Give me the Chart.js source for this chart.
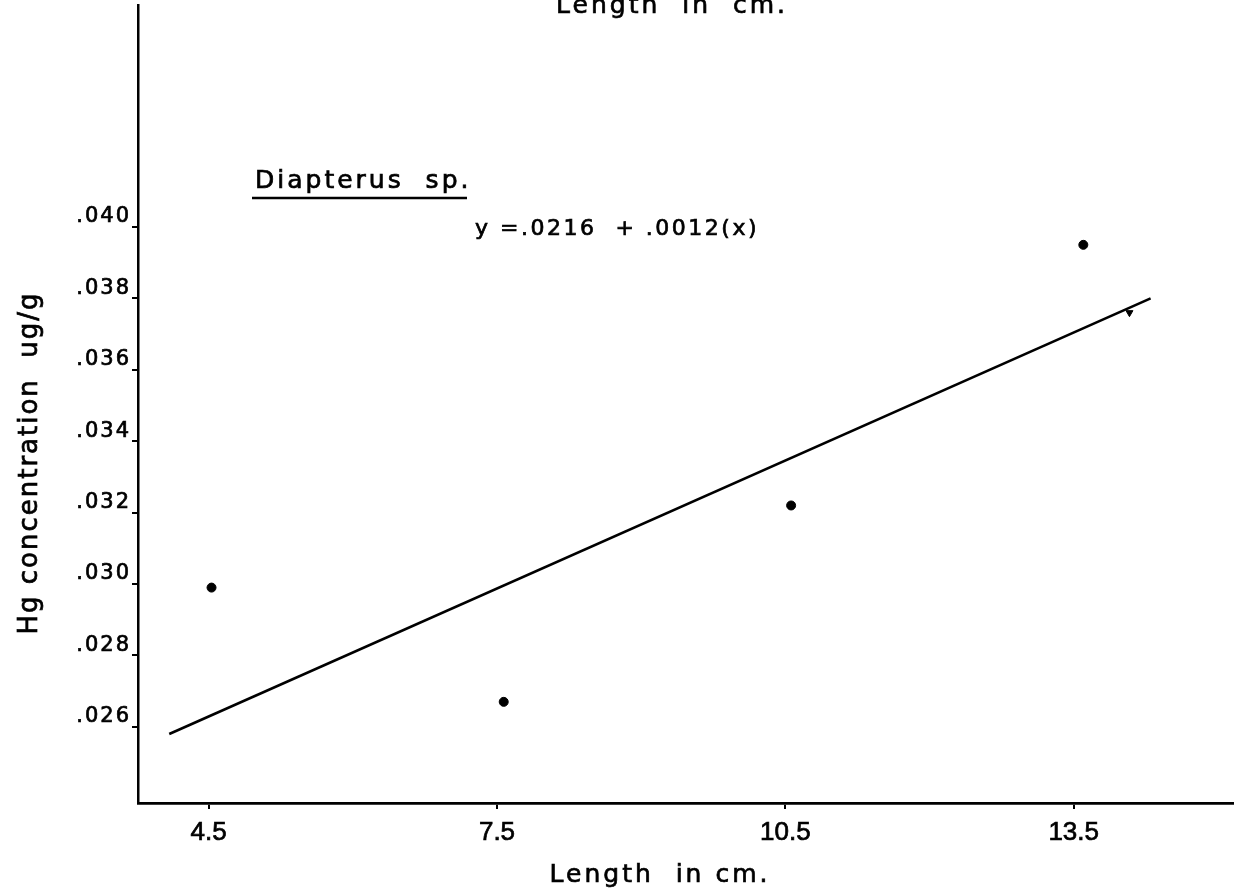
<!DOCTYPE html>
<html>
<head>
<meta charset="utf-8">
<script src="https://cdn.jsdelivr.net/npm/chart.js@4/dist/chart.umd.min.js"></script>
<style>
  html, body { margin: 0; padding: 0; background: #fff; }
  #chart { display: block; }
</style>
</head>
<body>
<canvas id="chart" width="1238" height="892"></canvas>
<script>
// Tick positions and labels
const xTicks = [4.5, 7.5, 10.5, 13.5];
const xTickLabels = ['4.5', '7.5', '10.5', '13.5'];
const yTicks = [0.026, 0.028, 0.030, 0.032, 0.034, 0.036, 0.038, 0.040];
const yTickLabels = ['.026', '.028', '.030', '.032', '.034', '.036', '.038', '.040'];

// Measured points (length in cm, Hg ug/g)
const lengths = [4.53, 7.57, 10.56, 13.6];
const hgValues = [0.0299, 0.0267, 0.0322, 0.0395];

// Fitted line end points, y = .0216 + .0012(x) as drawn
const fitX = [4.09, 14.3];
const fitY = [0.0258, 0.0380];

// Small mark sitting under the line end
const markX = [14.08];
const markY = [0.0376];

const toXY = (xs, ys) => xs.map((x, i) => ({ x, y: ys[i] }));

// draws text a little heavier, like the printed original
function boldText(ctx, text, x, y) {
  ctx.fillText(text, x, y);
  ctx.strokeText(text, x, y);
}

// Canvas letter spacing: y axis drawn spaced, x ticks drawn tight
const textPlugin = {
  id: 'textPlugin',
  beforeDraw(chart) { chart.ctx.letterSpacing = '2px'; },
  afterDatasetsDraw(chart) { chart.ctx.letterSpacing = '0px'; },
  afterDraw(chart) {
    const ctx = chart.ctx;
    ctx.save();
    ctx.fillStyle = '#000';
    ctx.strokeStyle = '#000';
    ctx.lineWidth = 0.7;
    ctx.letterSpacing = '3px';
    ctx.textBaseline = 'alphabetic';

    // top (cut off) title and bottom axis title
    ctx.font = '25px "DejaVu Sans"';
    ctx.textAlign = 'center';
    boldText(ctx, 'Length  in  cm.', 672, 13);
    boldText(ctx, 'Length  in cm.', 660, 882);

    // y axis title
    ctx.save();
    ctx.letterSpacing = '2px';
    ctx.font = '26px "DejaVu Sans"';
    ctx.translate(37, 463);
    ctx.rotate(-Math.PI / 2);
    boldText(ctx, 'Hg concentration  ug/g', 0, 0);
    ctx.restore();

    // species label with underline
    ctx.textAlign = 'left';
    boldText(ctx, 'Diapterus  sp.', 255, 188);
    ctx.lineWidth = 2.5;
    ctx.beginPath();
    ctx.moveTo(252, 198);
    ctx.lineTo(467, 198);
    ctx.stroke();

    // regression equation
    ctx.lineWidth = 0.7;
    ctx.letterSpacing = '2.5px';
    ctx.font = '22px "DejaVu Sans"';
    boldText(ctx, 'y =.0216  + .0012(x)', 475, 235);
    ctx.restore();
  }
};

new Chart(document.getElementById('chart'), {
  type: 'scatter',
  data: {
    datasets: [
      {
        label: 'Diapterus sp.',
        data: toXY(lengths, hgValues),
        backgroundColor: '#000',
        borderColor: '#000',
        pointRadius: 4.5
      },
      {
        type: 'line',
        label: 'fit',
        data: toXY(fitX, fitY),
        borderColor: '#000',
        borderWidth: 2.6,
        pointRadius: 0,
        fill: false
      },
      {
        label: 'mark',
        data: toXY(markX, markY),
        backgroundColor: '#000',
        borderColor: '#000',
        pointStyle: 'triangle',
        rotation: 180,
        pointRadius: 4
      }
    ]
  },
  options: {
    responsive: false,
    animation: false,
    layout: { padding: { top: 0, left: 0, right: 0, bottom: 0 } },
    plugins: {
      legend: { display: false },
      tooltip: { enabled: false },
      title: { display: false }
    },
    scales: {
      x: {
        type: 'linear',
        min: 3.765,
        max: 15.152,
        afterBuildTicks: (scale) => { scale.ticks = xTicks.map(value => ({ value })); },
        afterFit: (scale) => {
          scale.height = 89;
          scale.paddingLeft = 0;
          scale.paddingRight = 0;
        },
        border: { display: true, color: '#000', width: 2.8 },
        grid: { drawOnChartArea: false, drawTicks: true, tickLength: 6, color: '#000', lineWidth: 2 },
        ticks: {
          z: 1,
          padding: 8,
          color: '#000',
          textStrokeColor: '#000',
          textStrokeWidth: 0.7,
          font: { family: 'Liberation Sans', size: 26 },
          maxRotation: 0,
          autoSkip: false,
          callback: (v, i) => xTickLabels[i]
        }
      },
      y: {
        type: 'linear',
        min: 0.023867,
        max: 0.046203,
        afterBuildTicks: (scale) => { scale.ticks = yTicks.map(value => ({ value })); },
        afterFit: (scale) => {
          scale.width = 138;
          scale.paddingTop = 0;
          scale.paddingBottom = 0;
        },
        border: { display: true, color: '#000', width: 2.5 },
        grid: { drawOnChartArea: false, drawTicks: true, tickLength: 6, color: '#000', lineWidth: 2 },
        ticks: {
          padding: 1,
          labelOffset: -10,
          color: '#000',
          textStrokeColor: '#000',
          textStrokeWidth: 0.7,
          font: { family: 'DejaVu Sans', size: 21 },
          autoSkip: false,
          callback: (v, i) => yTickLabels[i]
        }
      }
    }
  },
  plugins: [textPlugin]
});
</script>
</body>
</html>
